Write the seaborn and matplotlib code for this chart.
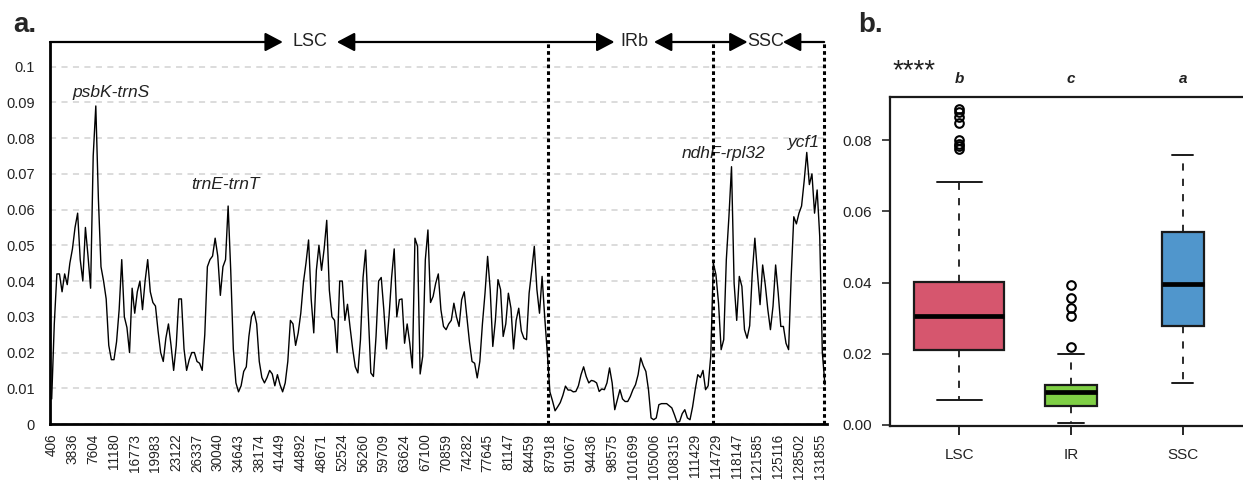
import numpy as np
import pandas as pd
import matplotlib
matplotlib.use('Agg')
import matplotlib.pyplot as plt
import seaborn as sns

# SLIDING WINDOW NUCLEOTIDE DIVERSITY
pi_values = [
    .007, .028, .042, .042, .037, .042, .039, .045, .049, .055,
    .059, .046, .040, .055, .047, .038, .075, .089, .063, .044,
    .040, .035, .022, .018, .018, .023, .032, .046, .030, .027,
    .020, .038, .031, .037, .040, .032, .040, .046, .037, .034,
    .033, .026, .020, .0175, .024, .028, .022, .015, .022, .035,
    .035, .021, .015, .018, .020, .020, .0175, .017, .015, .025,
    .044, .046, .047, .052, .047, .036, .044, .046, .061, .043,
    .021, .0115, .009, .0107, .0147, .016, .0245, .030, .0315, .028,
    .0175, .013, .0115, .013, .015, .014, .0107, .0138, .011, .009,
    .0115, .0175, .029, .028, .022, .0255, .031, .0395, .045, .0515,
    .035, .0255, .043, .050, .043, .049, .057, .0375, .030, .029,
    .020, .040, .040, .029, .0335, .027, .021, .016, .0143, .0236,
    .041, .0487, .031, .0143, .0133, .0245, .040, .041, .032, .021,
    .030, .041, .049, .030, .0348, .035, .0226, .028, .0226, .0157,
    .052, .0497, .014, .019, .046, .0543, .034, .0357, .0394, .042,
    .032, .0273, .0264, .028, .029, .0338, .030, .0273, .0348, .037,
    .030, .023, .0175, .017, .0129, .0175, .028, .0366, .0469, .0376,
    .0217, .029, .0404, .0376, .0245, .028, .0366, .0324, .021, .029,
    .0324, .026, .024, .0236, .0366, .043, .0497, .0376, .031, .0413,
    .030, .020, .009, .0065, .0037, .0048, .006, .008, .0106, .0095,
    .0095, .009, .0091, .0107, .0138, .016, .0133, .0115, .0122, .012,
    .0115, .0091, .0098, .0096, .0115, .0157, .0115, .004, .0068, .0096,
    .007, .0063, .0063, .0077, .0096, .011, .0138, .0185, .0163, .0147,
    .0096, .0017, .0012, .0017, .0054, .0057, .0057, .0057, .0051, .0045,
    .0026, .0005, .0007, .0029, .004, .0017, .0012, .0048, .0096, .0138,
    .013, .015, .0096, .0107, .019, .045, .0418, .0338, .0208, .0236,
    .046, .058, .072, .0394, .029, .0413, .0385, .0264, .024, .0275,
    .0422, .052, .0422, .0334, .0445, .039, .032, .0264, .033, .0445,
    .0366, .0273, .0273, .0226, .0208, .0413, .058, .056, .059, .061,
    .068, .076, .067, .070, .059, .0655, .0525, .020, .011,
]

position_labels = [
    '406', '3836', '7604', '11180', '16773', '19983', '23122', '26337',
    '30040', '34643', '38174', '41449', '44892', '48671', '52524', '56260',
    '59709', '63624', '67100', '70859', '74282', '77645', '81147', '84459',
    '87918', '91067', '94436', '98575', '101699', '105006', '108315',
    '111429', '114729', '118147', '121585', '125116', '128502', '131855',
]
windows_per_label = 8

# REGIONS (window where each region ends)
region_names = ['LSC', 'IRb', 'SSC']
region_ends = [191.4, 254.9, 297.7]

# HYPERVARIABLE REGIONS
hotspot_names = ['psbK-trnS', 'trnE-trnT', 'ndhF-rpl32', 'ycf1']
hotspot_windows = [22.9, 66.8, 259.0, 289.9]
hotspot_heights = [0.0927, 0.0669, 0.0758, 0.0789]

# BOXPLOT SUMMARY PER REGION
box_groups = ['LSC', 'IR', 'SSC']
box_q1 = [0.0211, 0.0053, 0.0277]
box_median = [0.0307, 0.0093, 0.0397]
box_q3 = [0.0401, 0.0113, 0.0541]
box_whislo = [0.0070, 0.0006, 0.0119]
box_whishi = [0.0682, 0.0200, 0.0760]
box_fliers = [
    [0.0888, 0.0879, 0.0866, 0.0850, 0.0800, 0.0790, 0.0783, 0.0776],
    [0.0392, 0.0356, 0.0328, 0.0305, 0.0218],
    [],
]
box_letters = ['b', 'c', 'a']
box_colors = ['#D6566E', '#7FCF45', '#5096CC']

sns.set_style('white')
plt.rcParams['font.family'] = ['Liberation Sans', 'DejaVu Sans']

df = pd.DataFrame({'window': np.arange(len(pi_values)), 'pi': pi_values})

fig = plt.figure(figsize=(12.43, 4.84), dpi=100)
W, H = 1243, 484

# PANEL A
ax = fig.add_axes([50 / W, 60 / H, 777 / W, 382 / H])
ax.set_axisbelow(True)
ax.grid(axis='y', color='#d2d2d2', linestyle=(0, (4, 3.5)), lw=1.1)
ax.grid(axis='x', visible=False)
sns.lineplot(data=df, x='window', y='pi', ax=ax, color='black', lw=1.0,
             estimator=None)

ax.set_xlim(-0.65, 298.8)
ax.set_ylim(0, 0.1069)
ax.set_yticks(np.arange(0, 0.101, 0.01))
ax.set_yticklabels(['0'] + ['%g' % v for v in np.arange(0.01, 0.101, 0.01).round(2)])
ax.set_xticks(df['window'][::windows_per_label])
ax.set_xticklabels(position_labels, rotation=90)
ax.tick_params(axis='y', length=0, pad=11, labelsize=10.5, labelcolor='#222222')
ax.tick_params(axis='x', length=0, pad=7, labelsize=9.8, labelcolor='#222222')
ax.set_xlabel('')
ax.set_ylabel('')
for s in ['top', 'right']:
    ax.spines[s].set_visible(False)
for s in ['left', 'bottom']:
    ax.spines[s].set_linewidth(2.0)
    ax.spines[s].set_color('black')

# REGION BOUNDARIES
ax.vlines(region_ends, 0, 0.1069, colors='black', linestyles=(0, (1.2, 1.0)),
          lw=2.2, clip_on=False, zorder=4)

# ARROWS WITH REGION NAMES ON TOP
starts = [ax.get_xlim()[0]] + region_ends[:-1]
centers = [99.5, 224.5, 275.0]
half_gaps = [10.4, 7.6, 6.8]
arrow_kw = dict(arrowstyle='-|>,head_length=0.72,head_width=0.38',
                color='black', lw=1.6, mutation_scale=15,
                shrinkA=0, shrinkB=0)
for name, x0, x1, c, g in zip(region_names, starts, region_ends, centers, half_gaps):
    ax.annotate('', xy=(c - g, 1), xytext=(x0, 1),
                xycoords=('data', 'axes fraction'),
                textcoords=('data', 'axes fraction'),
                arrowprops=arrow_kw, annotation_clip=False)
    ax.annotate('', xy=(c + g, 1), xytext=(x1, 1),
                xycoords=('data', 'axes fraction'),
                textcoords=('data', 'axes fraction'),
                arrowprops=arrow_kw, annotation_clip=False)
    ax.text(c, 1, name, transform=ax.get_xaxis_transform(), ha='center',
            va='center', fontsize=13, color='#222222')

for name, xw, yv in zip(hotspot_names, hotspot_windows, hotspot_heights):
    ax.text(xw, yv, name, ha='center', va='center', fontsize=12.5,
            style='italic', color='#222222')

fig.text(13 / W, 1 - 32 / H, 'a.', fontsize=20, fontweight='bold',
         va='baseline', ha='left')

# PANEL B
ax2 = fig.add_axes([890 / W, 58 / H, 362 / W, 328.7 / H])
stats = []
for g, lo, q1, med, q3, hi, fl in zip(box_groups, box_whislo, box_q1,
                                       box_median, box_q3, box_whishi,
                                       box_fliers):
    stats.append({'label': g, 'whislo': lo, 'q1': q1, 'med': med,
                  'q3': q3, 'whishi': hi, 'fliers': fl})
widths = [0.806, 0.468, 0.379]
bp = ax2.bxp(stats, positions=[1, 2, 3], widths=widths,
             capwidths=[w / 2 for w in widths], patch_artist=True,
             boxprops=dict(edgecolor='#1a1a1a', lw=1.6),
             whiskerprops=dict(color='#1a1a1a', lw=1.3,
                               linestyle=(0, (4, 4.5))),
             capprops=dict(color='#1a1a1a', lw=1.4),
             medianprops=dict(color='black', lw=3.4, solid_capstyle='butt'),
             flierprops=dict(marker='o', markerfacecolor='none',
                             markeredgecolor='black', markersize=6.2,
                             markeredgewidth=1.5))
for patch, col in zip(bp['boxes'], box_colors):
    patch.set_facecolor(col)

ax2.set_xlim(0.38, 3.62)
ax2.set_ylim(-0.0003, 0.0921)
ax2.set_yticks([0, 0.02, 0.04, 0.06, 0.08])
ax2.set_yticklabels(['0.00', '0.02', '0.04', '0.06', '0.08'])
ax2.set_xticks([1, 2, 3])
ax2.set_xticklabels(box_groups)
ax2.tick_params(axis='y', direction='out', length=6, width=1.2, pad=7,
                labelsize=11, labelcolor='#222222', left=True)
ax2.tick_params(axis='x', direction='out', length=6.5, width=1.4, pad=9,
                labelsize=11, labelcolor='#222222', bottom=True)
ax2.grid(False)
for s in ['left', 'top', 'bottom', 'right']:
    ax2.spines[s].set_linewidth(1.6)
    ax2.spines[s].set_color('#1a1a1a')

for pos, letter in zip([1, 2, 3], box_letters):
    ax2.text(pos, 1.056, letter, transform=ax2.get_xaxis_transform(),
             ha='center', va='center', fontsize=11, fontweight='bold',
             style='italic', color='#222222')
ax2.text(0.066, 1.08, '****', transform=ax2.transAxes, ha='center',
         va='center', fontsize=20, color='#222222')

fig.text(858 / W, 1 - 31.7 / H, 'b.', fontsize=20, fontweight='bold',
         va='baseline', ha='left')

fig.savefig('out.png', dpi=100)
